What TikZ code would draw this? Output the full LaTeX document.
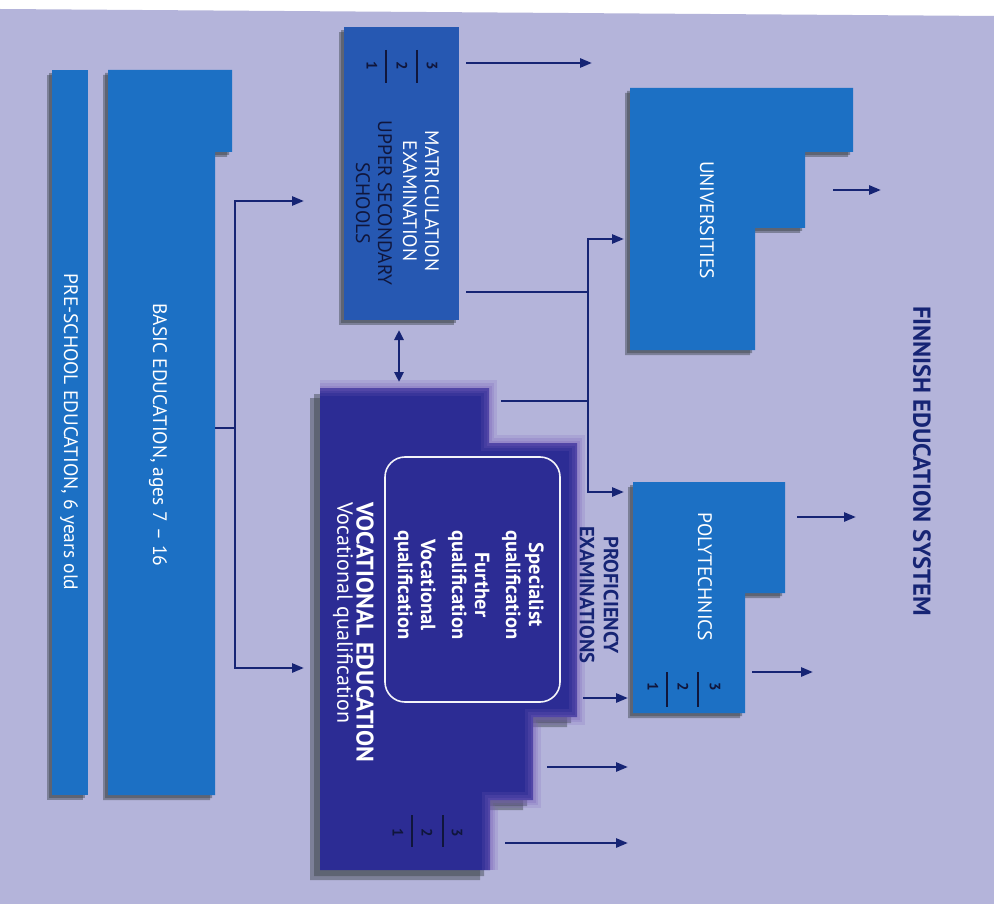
\documentclass[tikz,border=0pt]{standalone}
\usepackage{fontspec}
\setmainfont{PT Sans}
\usetikzlibrary{arrows.meta}
\definecolor{lav}{RGB}{180,180,218}
\definecolor{midblue}{RGB}{28,112,196}
\definecolor{secblue}{RGB}{38,88,178}
\definecolor{voc}{RGB}{44,44,148}
\definecolor{glow}{RGB}{120,96,186}
\definecolor{navy}{RGB}{22,36,116}
\definecolor{darktxt}{RGB}{16,22,60}
\definecolor{shadowc}{RGB}{58,66,72}
\begin{document}
\begin{tikzpicture}[x=1pt,y=-1pt,line join=miter,
  conn/.style={draw=navy, line width=2.6pt},
  arr/.style={conn, -{Triangle[length=12pt,width=9pt]}},
  dbl/.style={conn, {Triangle[length=10pt,width=9pt]}-{Triangle[length=10pt,width=9pt]}},
  vtext/.style={rotate=-90, text=white, inner sep=0pt, align=center, font=\fontsize{19.5}{22}\selectfont},
  btext/.style={vtext, font=\fontsize{20.5}{23}\bfseries\selectfont},
  ttext/.style={vtext, text=navy, font=\fontsize{20.5}{24}\bfseries\selectfont},
  digit/.style={rotate=-90, text=darktxt, inner sep=0pt, font=\fontsize{15}{17}\bfseries\selectfont},
  bar/.style={draw=darktxt, line width=1.2pt},
  shade/.style={fill=shadowc, opacity=.45}]
\useasboundingbox (0,0) rectangle (994,904);
\fill[white] (0,0) rectangle (994,904);
\fill[lav] (0,9) -- (994,16) -- (994,904) -- (0,904) -- cycle;

\def\prepath{(52,70) rectangle (88,795)}
\def\basicpath{(108,70) -- (232,70) -- (232,152) -- (215,152) -- (215,795) -- (108,795) -- cycle}
\def\secpath{(344,27) rectangle (459,320)}
\def\unipath{(630,88) -- (853,88) -- (853,152) -- (805,152) -- (805,228) -- (755,228) -- (755,350) -- (630,350) -- cycle}
\def\polypath{(633,482) -- (785,482) -- (785,593) -- (745,593) -- (745,713) -- (633,713) -- cycle}
\def\vocpath{(320,388) -- (489,388) -- (489,443) -- (577,443) -- (577,717) -- (533,717) -- (533,800) -- (490,800) -- (490,870) -- (320,870) -- cycle}

% shadows
\foreach \s in {3,5}{
  \fill[shade,shift={(-\s,\s)}] \prepath;
  \fill[shade,shift={(-\s,\s)}] \basicpath;
  \fill[shade,shift={(-\s,\s)}] \secpath;
  \fill[shade,shift={(-\s,\s)}] \unipath;
  \fill[shade,shift={(-\s,\s)}] \polypath;
}
\foreach \s in {6,10}{
  \fill[shade,shift={(-\s,\s)}] \vocpath;
}

% shapes
\fill[midblue] \prepath;
\fill[midblue] \basicpath;
\fill[secblue] \secpath;
\fill[midblue] \unipath;
\fill[midblue] \polypath;
\fill[voc] \vocpath;
\foreach \w/\o in {16/.18,10/.22,5/.25}{
  \draw[glow, line width=\w pt, opacity=\o] (320,388) -- (489,388) -- (489,443) -- (577,443) -- (577,717) -- (533,717) -- (533,800) -- (490,800) -- (490,870);
}
\draw[white!85!lav, line width=1.6pt, rounded corners=20pt] (385,457) rectangle (560,702);

% texts
\node[vtext] (pre) at (69,432) {PRE-SCHOOL EDUCATION, 6 years old};
\node[vtext] (basic) at (158,435) {BASIC EDUCATION, ages 7 -- 16};
\node[vtext] (matric) at (421,201) {MATRICULATION\\EXAMINATION};
\node[vtext, text=darktxt] (upper) at (374,203) {UPPER SECONDARY\\SCHOOLS};
\node[vtext] (uni) at (707,220) {UNIVERSITIES};
\node[vtext] (poly) at (705,577) {POLYTECHNICS};
\node[btext] (quals) at (469,585) {Specialist\\qualification\\[8pt]Further\\qualification\\[8pt]Vocational\\qualification};
\node[btext, font=\fontsize{24}{26}\bfseries\selectfont, anchor=west] (vocT) at (365,502) {VOCATIONAL EDUCATION};
\node[vtext, font=\fontsize{22}{24}\selectfont, anchor=west] (vocS) at (343,502) {Vocational qualification};
\node[ttext] (prof) at (599,595) {PROFICIENCY\\EXAMINATIONS};
\node[ttext, font=\fontsize{24.5}{26}\bfseries\selectfont] (title) at (922,461) {FINNISH EDUCATION SYSTEM};

% year digits
\node[digit] (s3) at (432,66) {3};
\node[digit] (s2) at (402,66) {2};
\node[digit] (s1) at (372,66) {1};
\draw[bar] (417,50) -- (417,83) (386,50) -- (386,83);
\node[digit] (v3) at (457,833) {3};
\node[digit] (v2) at (427,833) {2};
\node[digit] (v1) at (398,833) {1};
\draw[bar] (443,815) -- (443,847) (412,815) -- (412,847);
\node[digit] (p3) at (715,687) {3};
\node[digit] (p2) at (683,687) {2};
\node[digit] (p1) at (653,687) {1};
\draw[bar] (698,672) -- (698,707) (667,672) -- (667,707);

% connector points
\coordinate (basicOut) at (215,428);
\coordinate (jL) at (235,428);
\coordinate (secIn) at (304,201);
\coordinate (vocIn) at (304,668);
\coordinate (secOutA) at (466,63);
\coordinate (secOutAEnd) at (592,63);
\coordinate (secOutB) at (466,292);
\coordinate (jR) at (588,292);
\coordinate (jV) at (588,401);
\coordinate (vocOutTop) at (501,401);
\coordinate (uniIn) at (624,239);
\coordinate (polyIn) at (624,492);
\coordinate (secBot) at (399,330);
\coordinate (vocTop) at (399,382);
\coordinate (uniOut) at (833,190); \coordinate (uniOutEnd) at (881,190);
\coordinate (polyOutA) at (797,517); \coordinate (polyOutAEnd) at (856,517);
\coordinate (polyOutB) at (752,672); \coordinate (polyOutBEnd) at (813,672);
\coordinate (vocOutA) at (583,698); \coordinate (vocOutAEnd) at (628,698);
\coordinate (vocOutB) at (547,767); \coordinate (vocOutBEnd) at (628,767);
\coordinate (vocOutC) at (505,843); \coordinate (vocOutCEnd) at (628,843);

% connectors
\draw[conn] (basicOut) -- (jL);
\draw[arr] (jL) |- (secIn);
\draw[arr] (jL) |- (vocIn);
\draw[arr] (secOutA) -- (secOutAEnd);
\draw[conn] (secOutB) -- (jR);
\draw[conn] (vocOutTop) -- (jV);
\draw[arr] (jR) |- (uniIn);
\draw[arr] (jR) |- (polyIn);
\draw[dbl] (secBot) -- (vocTop);
\draw[arr] (uniOut) -- (uniOutEnd);
\draw[arr] (polyOutA) -- (polyOutAEnd);
\draw[arr] (polyOutB) -- (polyOutBEnd);
\draw[arr] (vocOutA) -- (vocOutAEnd);
\draw[arr] (vocOutB) -- (vocOutBEnd);
\draw[arr] (vocOutC) -- (vocOutCEnd);
\end{tikzpicture}
\end{document}
